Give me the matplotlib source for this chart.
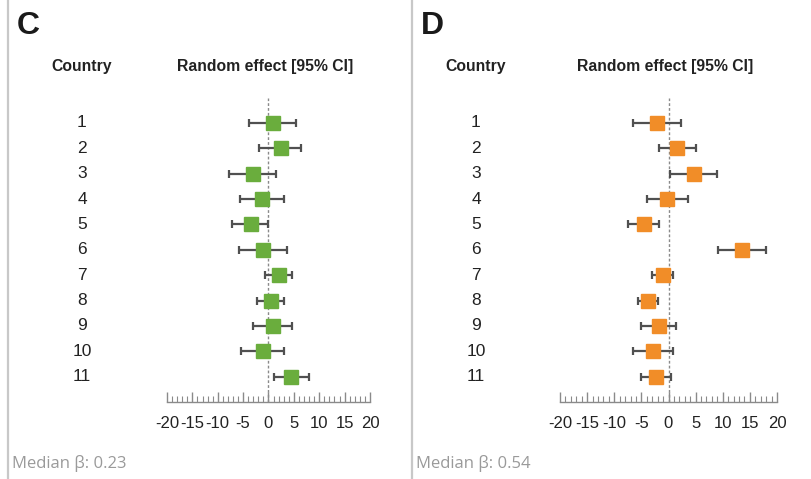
import numpy as np
import matplotlib.pyplot as plt

countries = [str(i) for i in range(1, 12)]

# panel C
c_est = [0.8, 2.4, -3.1, -1.2, -3.5, -1.1, 2.0, 0.5, 0.8, -1.1, 4.4]
c_lo = [-3.9, -1.8, -7.7, -5.6, -7.1, -5.8, -0.7, -2.2, -3.1, -5.4, 1.0]
c_hi = [5.4, 6.4, 1.5, 3.0, -0.1, 3.6, 4.6, 3.0, 4.7, 3.1, 7.9]

# panel D
d_est = [-2.1, 1.5, 4.7, -0.2, -4.5, 13.6, -1.0, -3.8, -1.8, -2.8, -2.3]
d_lo = [-6.6, -1.8, 0.3, -3.9, -7.5, 9.2, -3.1, -5.6, -5.1, -6.6, -5.0]
d_hi = [2.3, 5.0, 9.0, 3.6, -1.7, 18.0, 0.8, -2.0, 1.4, 0.9, 0.5]

xticks = [-20, -15, -10, -5, 0, 5, 10, 15, 20]
medians = ['0.23', '0.54']

W, H = 812, 479
fig = plt.figure(figsize=(W / 100, H / 100), dpi=100)
plt.rcParams['font.family'] = ['Liberation Sans', 'DejaVu Sans']


def fx(px):
    return px / W


def fy(py):
    return 1 - py / H


def panel(letter, ax_left, ax_right, lab_x, est, lo, hi, color, median, border_x):
    ax = fig.add_axes([fx(ax_left), fy(402), fx(ax_right - ax_left), (402 - 97.5) / H])
    y = np.arange(1, len(est) + 1)
    est = np.array(est)
    xerr = [est - np.array(lo), np.array(hi) - est]
    ax.axvline(0, color='#8a8a8a', ls=(0, (2, 1.5)), lw=1, zorder=1)
    ax.errorbar(est, y, xerr=xerr, fmt='s', color=color, ms=10, mec=color,
                ecolor='#505050', elinewidth=1.6, capsize=3.2, capthick=1.6,
                clip_on=False, zorder=3)
    ax.set_xlim(-20, 20)
    ax.set_ylim(12, 0)
    for s in ['top', 'right', 'left']:
        ax.spines[s].set_visible(False)
    ax.spines['bottom'].set_color('#8a8a8a')
    ax.spines['bottom'].set_linewidth(1)
    ax.set_yticks([])
    ax.set_xticks(xticks)
    ax.set_xticklabels([str(t) for t in xticks])
    ax.set_xticks(np.arange(-20, 21, 1), minor=True)
    ax.tick_params(axis='x', which='major', direction='in', length=7, width=1,
                   color='#8a8a8a', labelsize=12, pad=10, labelcolor='#222222')
    ax.tick_params(axis='x', which='minor', direction='in', length=4, width=0.8,
                   color='#8a8a8a')
    ax.patch.set_alpha(0)

    # row labels
    for yi, name in zip(y, countries):
        py = 97.5 + (402 - 97.5) * yi / 12
        fig.text(fx(lab_x), fy(py), name, ha='center', va='center', fontsize=12.5,
                 color='#222222')
    fig.text(fx(lab_x), fy(67), 'Country', ha='center', va='center', fontsize=11.3,
             fontweight='bold', color='#222222')
    fig.text(fx((ax_left + ax_right) / 2 - 3), fy(67), 'Random effect [95% CI]',
             ha='center', va='center', fontsize=11.3, fontweight='bold', color='#222222')
    fig.text(fx(border_x + 9), fy(26), letter, ha='left', va='center', fontsize=23,
             fontweight='bold', color='#1a1a1a')
    fig.text(fx(border_x + 4), fy(463), 'Median β: ' + median, ha='left', va='center',
             fontsize=12, color='#9a9a9a', family=['Open Sans', 'DejaVu Sans'])
    fig.add_artist(plt.Line2D([fx(border_x), fx(border_x)], [0, 1],
                              color='#c8c8c8', lw=1.6))


panel('C', 167, 370, 82, c_est, c_lo, c_hi, '#6aad3d', medians[0], 8)
panel('D', 560, 777, 476, d_est, d_lo, d_hi, '#f18d28', medians[1], 412)

fig.savefig('out.png', dpi=100)
